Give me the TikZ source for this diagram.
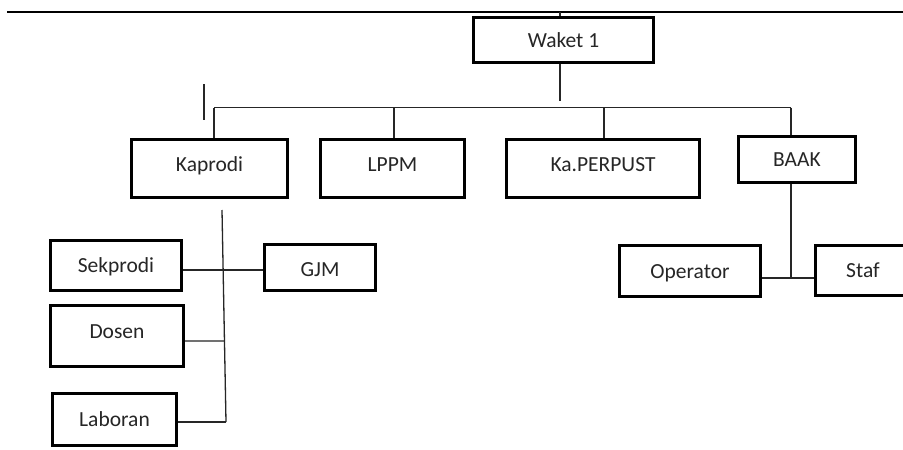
\documentclass[tikz,border=0pt]{standalone}
\usepackage{fontspec}
\setmainfont{Carlito}
\usetikzlibrary{calc}
\begin{document}
\begin{tikzpicture}[x=1pt,y=-1pt,
  box/.style={draw=black,line width=3pt,rectangle,inner sep=0pt,text height=14pt,text depth=0pt,
    font=\fontsize{21.5}{24}\selectfont,text=black!85},
  conn/.style={draw=black!85,line width=1.3pt}]
\useasboundingbox (0,0) rectangle (903,450);
\clip (0,0) rectangle (903,450);
\fill[white] (0,0) rectangle (903,450);
% boxes
\node[box,minimum width=180pt,minimum height=45pt] (wak) at (563.5,40) {Waket 1};
\node[box,minimum width=156pt,minimum height=58pt] (kap) at (209.5,168.5) {\raisebox{4pt}{Kaprodi}};
\node[box,minimum width=144pt,minimum height=58pt] (lppm) at (392.5,168.5) {\raisebox{4.5pt}{LPPM}};
\node[box,minimum width=193pt,minimum height=58pt] (perp) at (603,168.5) {\raisebox{4.5pt}{Ka.PERPUST}};
\node[box,minimum width=117pt,minimum height=46pt] (baak) at (797,159.5) {BAAK};
\node[box,minimum width=131pt,minimum height=50pt] (sek) at (116,265.5) {Sekprodi};
\node[box,minimum width=111pt,minimum height=46pt] (gjm) at (320,267.5) {\raisebox{-2pt}{GJM}};
\node[box,minimum width=133pt,minimum height=61pt] (dos) at (117,336) {\raisebox{5pt}{Dosen}};
\node[box,minimum width=124pt,minimum height=52pt] (lab) at (114.5,419.5) {Laboran};
\node[box,minimum width=141pt,minimum height=51pt] (op) at (690,271) {Operator};
\node[box,minimum width=95pt,minimum height=50pt] (staf) at (863,270.5) {Staf};
% top rule
\coordinate (tl) at (7,12);
\coordinate (tr) at (903,12);
\draw[line width=1.5pt] (tl) -- (tr);
\draw[conn] (wak.north -| 560,0) -- (560,12);
% bus
\coordinate (wakb) at (560,101);
\coordinate (busL) at (214,107.5);
\coordinate (busR) at (791,107.5);
\draw[conn] (wak.south -| wakb) -- (wakb);
\draw[conn] (busL) -- (busR);
\draw[conn] (busL) -- (kap.north -| busL);
\draw[conn] (394,107.5) -- (lppm.north -| 394,0);
\draw[conn] (604,107.5) -- (perp.north -| 604,0);
\draw[conn] (busR) -- (baak.north -| busR);
% stray tick
\coordinate (st1) at (204,84);
\coordinate (st2) at (204,120);
\draw[conn] (st1) -- (st2);
% Kaprodi spine
\coordinate (spT) at (222,210);
\coordinate (spB) at (226,422);
\draw[conn] (spT) -- (spB);
\draw[conn] (sek.east |- 0,270) -- (gjm.west |- 0,270);
\draw[conn] (dos.east |- 0,341) -- ($(spT)!0.618!(spB)$);
\draw[conn] (lab.east |- spB) -- (spB);
% BAAK
\coordinate (bj) at (791,278);
\draw[conn] (baak.south -| bj) -- (bj);
\draw[conn] (op.east |- bj) -- (staf.west |- bj);
\end{tikzpicture}
\end{document}
